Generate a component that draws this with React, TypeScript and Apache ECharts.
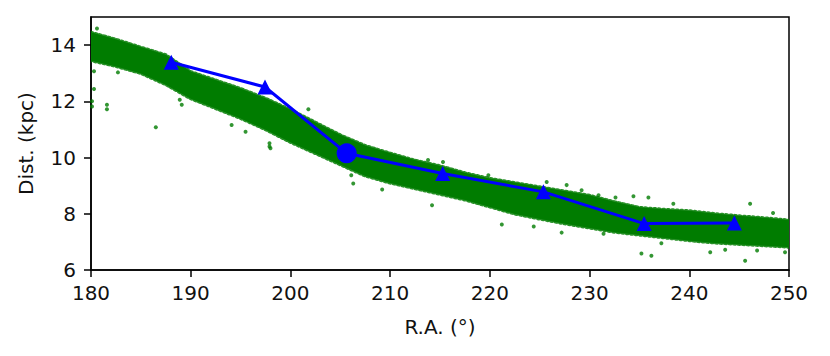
import React, { useEffect, useRef } from "react";
import * as echarts from "echarts";

// Green stellar stream band (outer edges)
const bandRA = [180, 182.5, 185, 187.5, 190, 192.5, 195, 197.5, 200, 202.5, 205, 207.5, 210, 212.5, 215, 217.5, 220, 222.5, 225, 227.5, 230, 232.5, 235, 237.5, 240, 242.5, 245, 247.5, 250];
const bandLow = [13.45, 13.25, 13.0, 12.6, 12.1, 11.75, 11.4, 11.0, 10.55, 10.15, 9.75, 9.35, 9.1, 8.9, 8.7, 8.5, 8.25, 8.0, 7.82, 7.65, 7.5, 7.35, 7.25, 7.15, 7.05, 6.97, 6.92, 6.87, 6.82];
const bandHigh = [14.45, 14.2, 13.92, 13.65, 13.05, 12.75, 12.45, 12.1, 11.7, 11.25, 10.8, 10.42, 10.15, 9.9, 9.7, 9.45, 9.25, 9.1, 8.95, 8.8, 8.65, 8.42, 8.22, 8.15, 8.1, 8.0, 7.92, 7.85, 7.77];

// Scattered stray stars outside the dense band
const strayRA = [180.6, 180.3, 180.3, 180.1, 180.1, 181.6, 181.6, 186.5, 182.7, 189.1, 188.9, 197.9, 197.9, 198.0, 194.1, 195.5, 201.8, 206.3, 206.1, 209.2, 213.8, 215.3, 214.2, 221.2, 224.4, 227.2, 225.7, 227.7, 219.85, 229.2, 230.9, 231.4, 232.7, 232.6, 234.4, 235.9, 238.4, 246.1, 248.4, 235.2, 242.1, 245.6, 249.6, 237.2, 243.6, 246.8, 236.2];
const strayDist = [14.59, 13.07, 12.44, 12.0, 11.82, 11.88, 11.72, 11.08, 13.03, 11.88, 12.06, 10.39, 10.51, 10.33, 11.16, 10.92, 11.72, 9.08, 9.37, 8.86, 9.91, 9.84, 8.3, 7.62, 7.55, 7.33, 9.13, 9.02, 9.37, 8.84, 8.66, 7.29, 7.41, 8.58, 8.62, 8.58, 8.36, 8.36, 8.03, 6.59, 6.63, 6.33, 6.63, 6.95, 6.72, 6.69, 6.51];

// Blue trace
const traceRA = [188.05, 197.45, 205.64, 215.27, 225.37, 235.47, 244.52];
const traceDist = [13.39, 12.51, 10.15, 9.43, 8.78, 7.65, 7.67];
const traceSymbols = ["triangle", "triangle", "circle", "triangle", "triangle", "triangle", "triangle"];
const traceSizes = [15, 15, 20, 15, 15, 15, 15];

const xTicks = [180, 190, 200, 210, 220, 230, 240, 250];
const yTicks = [6, 8, 10, 12, 14];

const FONT = "DejaVu Sans";
const GREEN = "#007c00";
const TEXT = "#111";

export default function App() {
  const ref = useRef<HTMLDivElement>(null);
  useEffect(() => {
    if (!ref.current) return;
    const chart = echarts.init(ref.current, null, { renderer: "svg" });
    const axisCommon = {
      axisLine: { show: true, onZero: false, lineStyle: { color: "#000", width: 1.5 } },
      axisTick: { show: true, inside: false, length: 7, lineStyle: { color: "#000", width: 1.5 } },
      splitLine: { show: false },
      nameTextStyle: { fontFamily: FONT, fontSize: 20, lineHeight: 20, color: TEXT },
    };
    const labelStyle = { fontFamily: FONT, fontSize: 20, lineHeight: 20, color: TEXT };
    chart.setOption({
      animation: false,
      backgroundColor: "#fff",
      grid: {
        left: 91, right: 41, top: 17, bottom: 86,
        show: true, borderColor: "#000", borderWidth: 1.5, backgroundColor: "transparent",
      },
      xAxis: {
        type: "value", min: 180, max: 250, interval: 10,
        ...axisCommon,
        axisTick: { ...axisCommon.axisTick, customValues: xTicks },
        axisLabel: { ...labelStyle, customValues: xTicks, margin: 13 },
        name: "R.A. (°)", nameLocation: "middle", nameGap: 47,
      },
      yAxis: {
        type: "value", min: 6, max: 15, interval: 2,
        ...axisCommon,
        axisTick: { ...axisCommon.axisTick, customValues: yTicks },
        axisLabel: { ...labelStyle, customValues: yTicks, margin: 15 },
        name: "Dist. (kpc)", nameLocation: "middle", nameGap: 55, nameRotate: 90,
      },
      series: [
        {
          type: "custom",
          coordinateSystem: "cartesian2d",
          data: [[bandRA[0], bandLow[0]]],
          silent: true,
          clip: true,
          z: 1,
          renderItem: (params: any, api: any) => {
            const pts: number[][] = [];
            for (let i = 0; i < bandRA.length; i++) pts.push(api.coord([bandRA[i], bandHigh[i]]));
            for (let i = bandRA.length - 1; i >= 0; i--) pts.push(api.coord([bandRA[i], bandLow[i]]));
            return {
              type: "group",
              children: [
                {
                  type: "polygon",
                  shape: { points: pts },
                  style: { fill: GREEN, stroke: GREEN, lineWidth: 3.5, lineDash: [1.5, 3], lineCap: "round", opacity: 0.85 },
                },
                {
                  type: "polygon",
                  shape: { points: pts },
                  style: { fill: GREEN, stroke: "none" },
                },
              ],
            };
          },
        },
        {
          type: "scatter",
          data: strayRA.map((x, i) => [x, strayDist[i]]),
          symbol: "circle",
          symbolSize: 4,
          itemStyle: { color: GREEN },
          z: 2,
        },
        {
          type: "line",
          data: traceRA.map((x, i) => ({
            value: [x, traceDist[i]],
            symbol: traceSymbols[i],
            symbolSize: traceSizes[i],
          })),
          lineStyle: { color: "#0000ff", width: 3 },
          itemStyle: { color: "#0000ff", borderWidth: 0 },
          showAllSymbol: true,
          z: 3,
        },
      ],
    });
    return () => chart.dispose();
  }, []);
  return (
    <div
      ref={ref}
      style={{ position: "absolute", left: 0, top: 0, width: 830, height: 356 }}
    />
  );
}
